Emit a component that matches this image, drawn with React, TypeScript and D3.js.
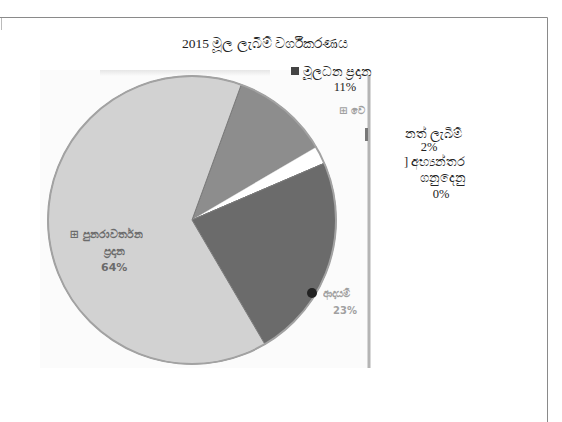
import React from 'react';
import * as d3 from 'd3';

const title = '2015 මූල ලැබීම් වර්ගීකරණය';
const categories = ['මූලධන ප්‍රදාන', 'වෙනත් ලැබීම්', 'අභ්‍යන්තර ගනුදෙනු', 'ආදායම්', 'පුනරාවර්තන ප්‍රදාන'];
const values = [11, 2, 0, 23, 64];
const fills = ['#8d8d8d', '#ffffff', '#ffffff', '#6b6b6b', '#d2d2d2'];

const W = 562, H = 422;
const cx = 192, cy = 220, R = 144;

export default function App() {
  const pie = d3.pie<number>().sort(null).value(d => d)
    .startAngle((20 * Math.PI) / 180).endAngle((20 * Math.PI) / 180 + 2 * Math.PI);
  const arcs = pie(values);
  const arc = d3.arc<d3.PieArcDatum<number>>().innerRadius(0).outerRadius(R);
  const labelArc = d3.arc<d3.PieArcDatum<number>>().innerRadius(R * 0.64).outerRadius(R * 0.64);
  const lc = labelArc.centroid(arcs[4]);
  const lx = cx + lc[0] + 6, ly = cy + lc[1];
  const serif = '"Liberation Serif", "DejaVu Serif", serif';
  const sans = '"DejaVu Sans", "Noto Sans", sans-serif';
  return (
    <svg width={W} height={H} style={{ position: 'absolute', left: 0, top: 0, background: '#fff' }}>
      <defs>
        <clipPath id="paste"><rect x={40} y={70} width={328} height={298} /></clipPath>
        <linearGradient id="topShade" x1="0" y1="0" x2="0" y2="1">
          <stop offset="0" stopColor="#d8d8d8" />
          <stop offset="1" stopColor="#fbfbfb" />
        </linearGradient>
      </defs>
      {/* page frame */}
      <path d="M0,17.5 H547.5 V422" fill="none" stroke="#8a8a8a" strokeWidth={1} />
      <line x1={1.5} y1={18} x2={1.5} y2={30} stroke="#bbb" strokeWidth={1} />
      <text x={265} y={48} textAnchor="middle" fontFamily={serif} fontSize={13.5} fill="#222">{title}</text>

      {/* pasted chart image */}
      <rect x={40} y={70} width={328} height={298} fill="#fbfbfb" />
      <rect x={100} y={70} width={170} height={6} fill="url(#topShade)" opacity={0.6} />
      <line x1={369} y1={75} x2={369} y2={368} stroke="#b4b4b4" strokeWidth={3} />
      <g clipPath="url(#paste)">
        <g transform={`translate(${cx},${cy})`}>
          {arcs.map((a, i) => (
            <path key={i} d={arc(a) || ''} fill={fills[i]} stroke={i === 1 ? '#eee' : '#7a7a7a'} strokeWidth={i === 1 ? 0.5 : 1} />
          ))}
          <circle r={R} fill="none" stroke="#a2a2a2" strokeWidth={2} />
        </g>
        {/* labels inside pasted image (blurry in source) */}
        <g fontFamily={sans} fontSize={11} fontWeight="bold" fill="#5a5a5a" textAnchor="middle" opacity={0.85}>
          <text x={lx} y={ly + 10}>⊞ {categories[4].split(' ')[0]}</text>
          <text x={lx + 8} y={ly + 27}>{categories[4].split(' ')[1]}</text>
          <text x={lx + 8} y={ly + 43}>{values[4]}%</text>
        </g>
        <circle cx={312} cy={293} r={5} fill="#222" />
        <g fontFamily={sans} fontSize={10} fontWeight="bold" fill="#8a8a8a" opacity={0.8}>
          <text x={323} y={297}>{categories[3]}</text>
          <text x={333} y={314}>{values[3]}%</text>
          <text x={339} y={114}>⊞ {categories[1].slice(0, 2)}</text>
        </g>
        <rect x={365} y={128} width={5} height={13} fill="#777" />
      </g>

      {/* labels printed on the page */}
      <g fontFamily={serif} fontSize={12.5} fill="#222">
        <rect x={291} y={67} width={8} height={8} fill="#444" />
        <text x={303} y={76}>{categories[0]}</text>
        <text x={345} y={91} textAnchor="middle">{values[0]}%</text>
        <text x={405} y={138}>{categories[1].slice(2)}</text>
        <text x={429} y={151} textAnchor="middle">{values[1]}%</text>
        <text x={404} y={166}>] {categories[2].split(' ')[0]}</text>
        <text x={443} y={182} textAnchor="middle">{categories[2].split(' ')[1]}</text>
        <text x={441} y={198} textAnchor="middle">{values[2]}%</text>
      </g>
    </svg>
  );
}
